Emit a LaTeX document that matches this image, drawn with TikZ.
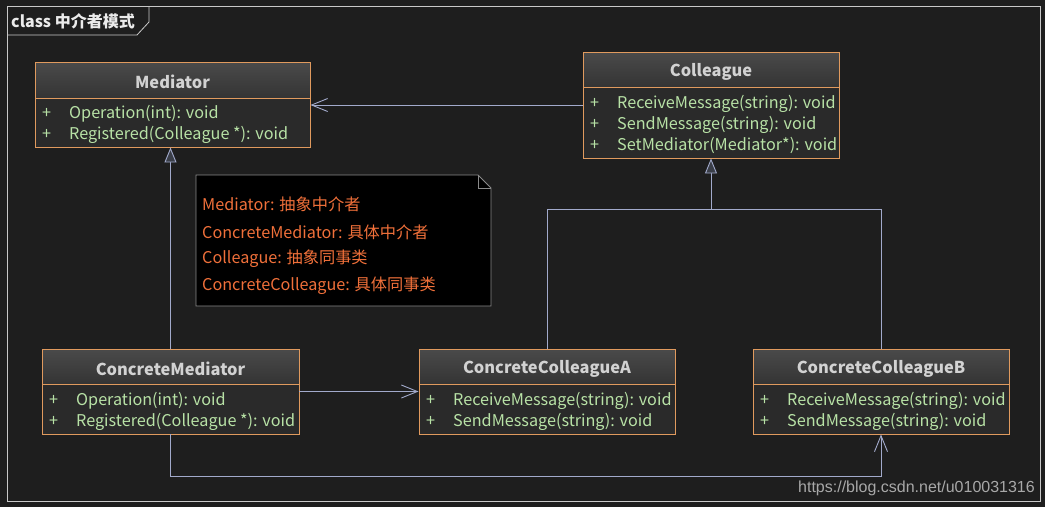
\documentclass[tikz,border=0pt]{standalone}
\usepackage{fontspec}
\setmainfont{Noto Sans CJK SC}
\newfontfamily\wmfont{Liberation Sans}
\usetikzlibrary{arrows.meta,calc}
\definecolor{bgc}{HTML}{1E1E1E}
\definecolor{framec}{HTML}{C8C8C8}
\definecolor{borderc}{HTML}{E09A5E}
\definecolor{hdtop}{HTML}{4A4A4A}
\definecolor{hdbot}{HTML}{343434}
\definecolor{bodyc}{HTML}{2A2A2A}
\definecolor{titlec}{HTML}{D2D2D2}
\definecolor{methc}{HTML}{B8E2A6}
\definecolor{linec}{HTML}{A2AACB}
\definecolor{trifill}{HTML}{3A3E48}
\definecolor{notec}{HTML}{F0703A}
\definecolor{noteborder}{HTML}{8A8A8A}
\definecolor{wmc}{HTML}{A8A8A8}
\tikzset{
  classbox/.style={draw=borderc, line width=0.9pt, inner sep=0pt},
  classtitle/.style={text=titlec, font=\fontsize{16.4}{19}\selectfont\bfseries, inner sep=0pt},
  methtext/.style={text=methc, font=\fontsize{16.2}{19}\selectfont, anchor=west, inner sep=0pt},
  notetext/.style={text=notec, font=\fontsize{16.2}{19}\selectfont, anchor=west, inner sep=0pt},
  conn/.style={draw=linec, line width=0.9pt},
  assoc/.style={conn, -{Straight Barb[length=16pt,width=13pt,line width=0.9pt]}},
  gener/.style={conn, -{Triangle[length=15pt,width=12pt,fill=trifill,line width=0.9pt]}},
}
% name, x1, y1, x2, ysep, y2, title
\newcommand\umlclassbox[7]{%
  \fill[bodyc] (#2,#3) rectangle (#4,#6);
  \shade[top color=hdtop, bottom color=hdbot] (#2,#3) rectangle (#4,#5);
  \draw[borderc, line width=0.9pt] (#2,#5) -- (#4,#5);
  \node[classbox, minimum width={(#4-#2)*1pt}, minimum height={(#6-#3)*1pt}] (#1) at ({(#2+#4)/2},{(#3+#6)/2}) {};
  \node[classtitle] (#1-title) at ({(#2+#4)/2},{(#3+#5)/2+2}) {#7};
}
% name, x (box left), y, text
\newcommand\umlmeth[4]{%
  \node[methtext] (#1-plus) at (#2+7,#3+1.5) {+};
  \node[methtext] (#1) at (#2+34,#3+1.5) {#4};
}
\begin{document}
\begin{tikzpicture}[x=1pt,y=-1pt]
\useasboundingbox (0,0) rectangle (1045,507);
\fill[bgc] (0,0) rectangle (1045,507);
% frame
\draw[framec, line width=0.8pt] (7,6) rectangle (1040,501);
\draw[framec, line width=0.8pt] (7,35) -- (137,35) -- (149,22) -- (149,6);
\node[anchor=west, inner sep=0pt, text=white!92!black, font=\fontsize{16}{19}\selectfont\bfseries] (frametitle) at (11,21) {class 中介者模式};

% classes
\umlclassbox{med}{35}{62}{310}{98}{147}{Mediator}
\umlmeth{med1}{35}{112}{Operation(int): void}
\umlmeth{med2}{35}{133}{Registered(Colleague *): void}

\umlclassbox{col}{583}{52}{839}{87}{158}{Colleague}
\umlmeth{col1}{583}{102}{ReceiveMessage(string): void}
\umlmeth{col2}{583}{123}{SendMessage(string): void}
\umlmeth{col3}{583}{144}{SetMediator(Mediator*): void}

\umlclassbox{cm}{42}{349}{299}{384}{434}{ConcreteMediator}
\umlmeth{cm1}{42}{399}{Operation(int): void}
\umlmeth{cm2}{42}{420}{Registered(Colleague *): void}

\umlclassbox{ca}{419}{349}{675}{384}{434}{ConcreteColleagueA}
\umlmeth{ca1}{419}{399}{ReceiveMessage(string): void}
\umlmeth{ca2}{419}{420}{SendMessage(string): void}

\umlclassbox{cb}{753}{349}{1009}{384}{434}{ConcreteColleagueB}
\umlmeth{cb1}{753}{399}{ReceiveMessage(string): void}
\umlmeth{cb2}{753}{420}{SendMessage(string): void}

% note
\draw[noteborder, fill=black, line width=0.8pt] (196,175) -- (478,175) -- (491,188) -- (491,306) -- (196,306) -- cycle;
\draw[noteborder, line width=0.8pt] (478,175) -- (478,188) -- (491,188);
\node[notetext] (n1) at (202,204) {Mediator: 抽象中介者};
\node[notetext] (n2) at (202,232) {ConcreteMediator: 具体中介者};
\node[notetext] (n3) at (202,259) {Colleague: 抽象同事类};
\node[notetext] (n4) at (202,286) {ConcreteColleague: 具体同事类};

% connectors
\draw[assoc] (col.west) -- (med.east |- col.west);
\draw[gener] (cm.north) -- (cm.north |- med.south);
\draw[assoc] (cm.east) -- (ca.west);
\coordinate (cmdown) at ($(cm.south)+(0,42)$);
\draw[assoc] (cm.south) -- (cmdown) -- (cmdown -| cb.south) -- (cb.south);
\coordinate (junc) at ($(col.south)+(0,51)$);
\draw[conn] (ca.north) -- (ca.north |- junc) -- (cb.north |- junc) -- (cb.north);
\draw[gener] (junc) -- (col.south);

% watermark
\node[anchor=east, inner sep=0pt, text=wmc, font=\wmfont\fontsize{16}{19}\selectfont] (wm) at (1035,488) {https://blog.csdn.net/u010031316};
\end{tikzpicture}
\end{document}
